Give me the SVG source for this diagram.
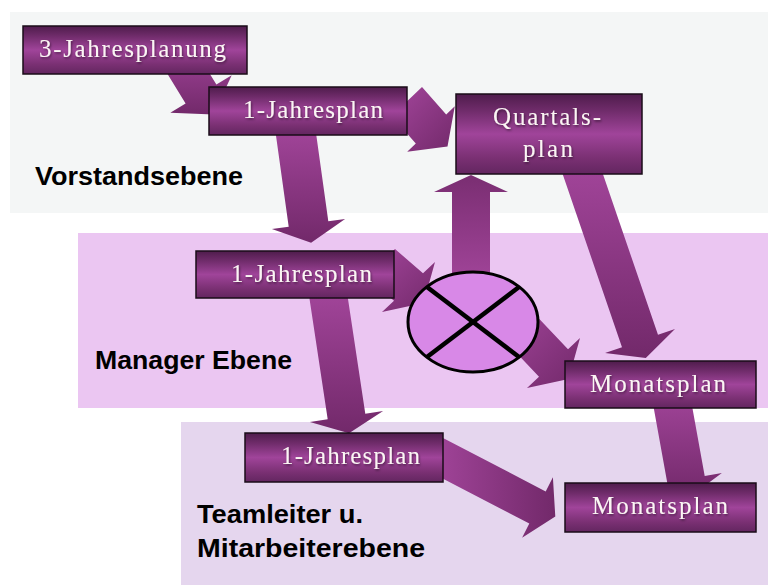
<svg xmlns="http://www.w3.org/2000/svg" width="768" height="585" viewBox="0 0 768 585">
<defs>
<linearGradient id="boxg" x1="0" y1="0" x2="0" y2="1">
<stop offset="0" stop-color="#4f1c4c"/>
<stop offset="0.2" stop-color="#6e2b69"/>
<stop offset="0.5" stop-color="#a0449a"/>
<stop offset="0.8" stop-color="#7a3073"/>
<stop offset="1" stop-color="#632660"/>
</linearGradient>
<linearGradient id="gv" x1="0" y1="0" x2="0" y2="1">
<stop offset="0" stop-color="#a4469c"/>
<stop offset="1" stop-color="#72296a"/>
</linearGradient>
<linearGradient id="gu" x1="0" y1="1" x2="0" y2="0">
<stop offset="0" stop-color="#a4469c"/>
<stop offset="1" stop-color="#7a2e72"/>
</linearGradient>
<linearGradient id="gd" x1="0" y1="0" x2="1" y2="1">
<stop offset="0" stop-color="#a4469c"/>
<stop offset="1" stop-color="#72296a"/>
</linearGradient>
<linearGradient id="gh" x1="0" y1="0" x2="1" y2="0">
<stop offset="0" stop-color="#a4469c"/>
<stop offset="1" stop-color="#72296a"/>
</linearGradient>
<filter id="ts" x="-10%" y="-30%" width="120%" height="160%">
<feDropShadow dx="1" dy="1.5" stdDeviation="0.8" flood-color="#000" flood-opacity="0.45"/>
</filter>
</defs>
<style>
.box{fill:url(#boxg);stroke:#1a0c19;stroke-width:1.5}
.lbl{font-family:"Liberation Serif","DejaVu Serif",serif;font-size:25px;fill:#fbf6f4;text-anchor:middle;filter:url(#ts)}
.band{font-family:"Liberation Sans","Arial",sans-serif;font-weight:bold;font-size:25px;fill:#000}
.arr{stroke:none}
</style>
<g id="bands">
<rect x="10" y="12" width="758" height="201" fill="#f4f6f6"/>
<rect x="78" y="233" width="690" height="175" fill="#ebc6f2"/>
<rect x="181" y="422" width="587" height="163" fill="#e5d6ee"/>
<text class="band" x="35" y="185" textLength="208" lengthAdjust="spacingAndGlyphs">Vorstandsebene</text>
<text class="band" x="95" y="369" textLength="197" lengthAdjust="spacingAndGlyphs">Manager Ebene</text>
<text class="band" x="197" y="523" textLength="166" lengthAdjust="spacingAndGlyphs">Teamleiter u.</text>
<text class="band" x="197" y="557" textLength="228" lengthAdjust="spacingAndGlyphs">Mitarbeiterebene</text>
</g>
<g id="connectors">
<polygon class="arr" fill="url(#gv)" points="159.4,60.7 185.6,103.4 170.3,112.8 213.6,114.5 231.7,75.2 216.4,84.6 190.2,41.9"/>
<polygon class="arr" fill="url(#gv)" points="274.9,127.8 288.7,226.8 271.9,229.1 311.1,242.8 345.1,218.9 328.3,221.2 314.5,122.2"/>
<polygon class="arr" fill="url(#gd)" points="391.6,116 415.8,143.5 407.2,151.8 447.5,146.4 454.8,106.2 446.2,114.5 422,87"/>
<polygon class="arr" fill="url(#gu)" points="490,290 490,192 508,192 471,175 434,192 452,192 452,290"/>
<polygon class="arr" fill="url(#gd)" points="366,276.4 394,300.7 382,312 423.6,303 435,262 423,273.3 395,249"/>
<polygon class="arr" fill="url(#gd)" points="497.8,333.1 539,376.7 527,388 568.6,379 580,338 568,349.3 526.8,305.7"/>
<polygon class="arr" fill="url(#gv)" points="560.4,167.5 622,347.2 605,353 645.8,358 675,329 658,334.8 596.4,155.1"/>
<polygon class="arr" fill="url(#gv)" points="308.3,290.7 327.7,419.3 309.9,422 349,433.3 383.1,411 365.3,413.7 345.9,285.1"/>
<polygon class="arr" fill="url(#gh)" points="426.7,470.2 529.3,523.6 522.1,537.8 555.3,516.6 552.9,477.2 545.7,491.4 443,438"/>
<polygon class="arr" fill="url(#gv)" points="651.3,394.4 667.3,482.9 650.1,486 689.2,497.2 721.9,473 704.7,476.1 688.7,387.6"/>
</g>
<g id="node-3jahresplanung">
<rect class="box" x="23" y="26" width="224" height="48"/>
<text class="lbl" x="132.5" y="57" textLength="187" lengthAdjust="spacing">3-Jahresplanung</text>
</g>
<g id="node-1jahresplan-vorstand">
<rect class="box" x="209" y="87" width="198" height="48"/>
<text class="lbl" x="313" y="118" textLength="140" lengthAdjust="spacing">1-Jahresplan</text>
</g>
<g id="node-quartalsplan">
<rect class="box" x="456" y="94" width="186" height="80"/>
<text class="lbl" x="547" y="125" textLength="108" lengthAdjust="spacing">Quartals-</text>
<text class="lbl" x="548" y="157" textLength="50" lengthAdjust="spacing">plan</text>
</g>
<g id="node-1jahresplan-manager">
<rect class="box" x="196" y="251" width="198" height="47"/>
<text class="lbl" x="301.5" y="282" textLength="141" lengthAdjust="spacing">1-Jahresplan</text>
</g>
<g id="node-kreuz">
<ellipse cx="473" cy="322" rx="65" ry="50" fill="#d888e7" stroke="#000" stroke-width="3"/>
<line x1="427" y1="287" x2="519" y2="357" stroke="#000" stroke-width="4.5"/>
<line x1="519" y1="287" x2="427" y2="357" stroke="#000" stroke-width="4.5"/>
</g>
<g id="node-monatsplan-manager">
<rect class="box" x="565" y="361" width="191" height="47"/>
<text class="lbl" x="658" y="392" textLength="136" lengthAdjust="spacing">Monatsplan</text>
</g>
<g id="node-1jahresplan-team">
<rect class="box" x="245" y="433" width="198" height="49"/>
<text class="lbl" x="350.5" y="464" textLength="139" lengthAdjust="spacing">1-Jahresplan</text>
</g>
<g id="node-monatsplan-team">
<rect class="box" x="565" y="483" width="191" height="49"/>
<text class="lbl" x="660" y="514" textLength="136" lengthAdjust="spacing">Monatsplan</text>
</g>
</svg>
